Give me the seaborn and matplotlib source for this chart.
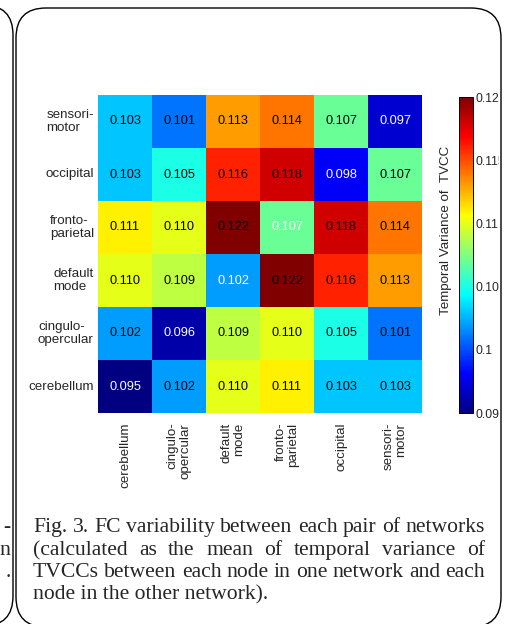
import numpy as np
import pandas as pd
import matplotlib
matplotlib.use("Agg")
import matplotlib.pyplot as plt
import seaborn as sns
from matplotlib.patches import FancyBboxPatch, Rectangle
from matplotlib.ticker import FormatStrFormatter
from matplotlib.colors import LinearSegmentedColormap

# ---------------- data ----------------
row_labels = ["sensori-\nmotor", "occipital", "fronto-\nparietal",
              "default\nmode", "cingulo-\nopercular", "cerebellum"]
col_labels = ["cerebellum", "cingulo-\nopercular", "default\nmode",
              "fronto-\nparietal", "occipital", "sensori-\nmotor"]
row_sensorimotor = [0.103, 0.101, 0.113, 0.114, 0.107, 0.097]
row_occipital    = [0.103, 0.105, 0.116, 0.118, 0.098, 0.107]
row_fronto       = [0.111, 0.110, 0.122, 0.107, 0.118, 0.114]
row_default      = [0.110, 0.109, 0.102, 0.122, 0.116, 0.113]
row_cingulo      = [0.102, 0.096, 0.109, 0.110, 0.105, 0.101]
row_cerebellum   = [0.095, 0.102, 0.110, 0.111, 0.103, 0.103]
cbar_ticks = [0.095, 0.1, 0.105, 0.11, 0.115, 0.12]
cbar_label = "Temporal Variance of  TVCC"
caption_lines = [
    "Fig. 3. FC variability between each pair of networks",
    "(calculated as the mean of temporal variance of",
    "TVCCs between each node in one network and each",
    "node in the other network).",
]
left_fragments = ["-", "n", "."]

df = pd.DataFrame([row_sensorimotor, row_occipital, row_fronto,
                   row_default, row_cingulo, row_cerebellum],
                  index=row_labels, columns=col_labels)

# MATLAB-style jet colormap
matlab_jet = LinearSegmentedColormap.from_list(
    "matlab_jet",
    [(0.0, (0, 0, 0.5)), (1 / 8, (0, 0, 1)), (3 / 8, (0, 1, 1)),
     (5 / 8, (1, 1, 0)), (7 / 8, (1, 0, 0)), (1.0, (0.5, 0, 0))], N=256)

# ---------------- style ----------------
sns.set_style("white")
plt.rcParams["font.family"] = ["Liberation Sans", "DejaVu Sans"]

W, H = 505, 624
fig = plt.figure(figsize=(W / 100, H / 100), dpi=100)

ax = fig.add_axes([98 / W, 1 - 413 / H, 324 / W, 318 / H])
cax = fig.add_axes([459 / W, 1 - 413 / H, 14 / W, 316 / H])

sns.heatmap(df, ax=ax, cbar_ax=cax, cmap=matlab_jet, vmin=0.095, vmax=0.12,
            annot=True, fmt=".3f", annot_kws={"fontsize": 9.2},
            cbar_kws={"ticks": cbar_ticks})

n = len(row_labels)
for t in ax.texts:
    x, y = t.get_position()
    c, r = int(x), int(y)
    t.set_color("white" if r + c == n - 1 else "black")

ax.set_xlabel("")
ax.set_ylabel("")
ax.set_yticklabels(row_labels, rotation=0, fontsize=9.6, ha="right",
                   multialignment="left", linespacing=1.1)
ax.set_xticklabels(col_labels, rotation=90, fontsize=9.6, ha="center",
                   va="top", multialignment="right", linespacing=1.1)
ax.tick_params(axis="both", length=0)
ax.tick_params(axis="x", pad=7)
ax.tick_params(axis="y", pad=3)

cbar = ax.collections[0].colorbar
cbar.ax.yaxis.set_major_formatter(FormatStrFormatter("%g"))
cbar.ax.tick_params(labelsize=8.7, direction="in", length=2.5, width=0.6,
                    left=True, right=True, pad=1.5)
cbar.outline.set_linewidth(0.7)
cbar.outline.set_edgecolor("black")
cbar.ax.yaxis.set_label_position("left")
cbar.set_label(cbar_label, fontsize=9.6, labelpad=5)
cbar.ax.yaxis.label.set_y(0.579)

# ---------------- page frames ----------------
cover = Rectangle((498.5 / 100, 0), 0.2, H / 100, transform=fig.dpi_scale_trans,
                  facecolor="white", edgecolor="none", zorder=5)
fig.patches.append(cover)
main_frame = FancyBboxPatch((16 / 100, (H - 627) / 100), 485 / 100, 619 / 100,
                            boxstyle="round,pad=0,rounding_size=0.3",
                            transform=fig.dpi_scale_trans, facecolor="none",
                            edgecolor="black", linewidth=1.0, zorder=6)
left_frame = FancyBboxPatch((-2.0, (H - 626) / 100), 2.13, 621 / 100,
                            boxstyle="round,pad=0,rounding_size=0.3",
                            transform=fig.dpi_scale_trans, facecolor="none",
                            edgecolor="black", linewidth=1.0, zorder=6)
fig.patches.append(main_frame)
fig.patches.append(left_frame)

# ---------------- caption (justified) ----------------
serif = ["Liberation Serif", "DejaVu Serif"]
baselines = [532, 555, 577, 599]
x0, x1 = 33, 485
renderer = fig.canvas.get_renderer()
probe = fig.text(0, 0, caption_lines[0], fontsize=10, family=serif)
w10 = probe.get_window_extent(renderer).width
probe.remove()
cap_fs = 10 * (x1 - x0) / w10

for i, (line, b) in enumerate(zip(caption_lines, baselines)):
    yb = 1 - b / H
    if i == len(caption_lines) - 1:
        fig.text(x0 / W, yb, line, fontsize=cap_fs, family=serif,
                 ha="left", va="baseline")
        continue
    words = line.split(" ")
    texts = [fig.text(0, yb, w, fontsize=cap_fs, family=serif,
                      ha="left", va="baseline") for w in words]
    widths = [t.get_window_extent(renderer).width for t in texts]
    gap = (x1 - x0 - sum(widths)) / (len(words) - 1)
    xp = x0
    for t, wd in zip(texts, widths):
        t.set_x(xp / W)
        xp += wd + gap

for frag, b in zip(left_fragments, baselines[:3]):
    fig.text(10.5 / W, 1 - b / H, frag, fontsize=cap_fs, family=serif,
             ha="right", va="baseline")

fig.savefig("out.png", dpi=100)
